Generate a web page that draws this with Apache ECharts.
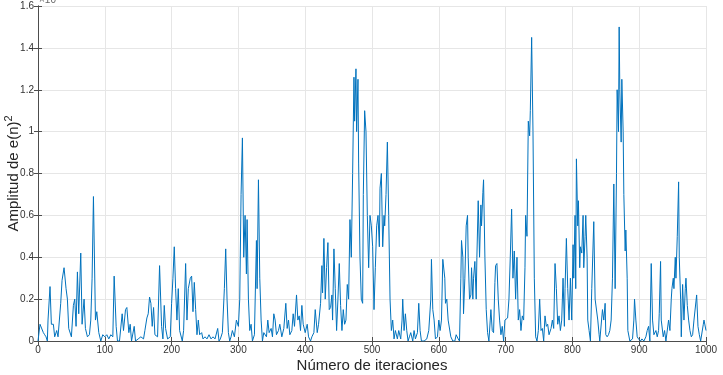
<!DOCTYPE html>
<html>
<head>
<meta charset="utf-8">
<script src="https://cdn.jsdelivr.net/npm/echarts@6/dist/echarts.min.js"></script>
<style>
html,body{margin:0;padding:0;background:#fff;}
#chart{width:723px;height:375px;}
</style>
</head>
<body>
<div id="chart"></div>
<script>
// Data: [iteration, amplitude (x10^-n)]
const seg0to200 = [[0,0],[3,0.08],[8,0.04],[10,0.03],[12,0.02],[14,0],[15,0.1],[18,0.26],[20,0.08],[23,0.08],[25,0.02],[28,0.05],[30,0.02],[34,0.18],[36,0.29],[39,0.35],[42,0.25],[44,0.2],[46,0.06],[48,0.06],[50,0.02],[53,0.17],[55,0.2],[57,0.07],[59,0.33],[61,0.13],[64,0.42],[66,0.08],[69,0.2],[71,0.06],[74,0.02],[77,0.03],[79,0.1],[81,0.3],[83,0.69],[86,0.1],[88,0.14],[91,0.04],[94,0],[97,0.03],[100,0.02],[103,0.03],[106,0.01],[109,0.03],[112,0.02],[114,0.31],[117,0.07],[119,0],[122,0],[126,0.13],[128,0.05],[131,0.15],[133,0.16],[136,0.04],[138,0.08],[140,0],[144,0.07],[146,0],[150,0.01],[154,0.02],[158,0.01],[160,0.05],[163,0.11],[165,0.13],[167,0.21],[169,0.18],[171,0.07],[173,0.16],[175,0.03],[179,0.02],[182,0.36],[185,0.07],[187,0.01],[189,0.17],[191,0.06],[194,0.01],[198,0.02]];
const seg200to400 = [[200,0.18],[202,0.3],[204,0.45],[206,0.25],[208,0.1],[210,0.25],[212,0.05],[214,0.05],[216,0],[218,0.05],[221,0.37],[223,0.1],[225,0.25],[228,0.3],[230,0.31],[232,0.14],[234,0.28],[236,0.15],[238,0.03],[240,0.1],[242,0.03],[245,0.04],[247,0.01],[250,0.02],[253,0.01],[256,0.03],[259,0.01],[262,0.02],[265,0.01],[269,0.06],[271,0],[273,0.01],[276,0.04],[279,0.25],[281,0.44],[283,0.2],[285,0.04],[287,0],[289,0.02],[291,0.05],[294,0.02],[297,0.1],[300,0.07],[302,0.2],[304,0.7],[306,0.97],[308,0.4],[310,0.6],[312,0.32],[313,0.58],[315,0.2],[317,0.05],[319,0.08],[321,0],[324,0.03],[327,0.48],[328,0.25],[330,0.77],[332,0.3],[334,0.1],[336,0],[338,0.04],[342,0.02],[344,0.1],[346,0.04],[349,0.06],[351,0.02],[353,0.13],[355,0.1],[357,0.03],[360,0.05],[362,0.08],[365,0.02],[368,0.06],[371,0.18],[373,0.06],[375,0.1],[377,0.03],[380,0.05],[382,0.13],[384,0.07],[387,0.22],[389,0.1],[391,0.12],[393,0.05],[395,0.17],[397,0.08]];
const seg400to600 = [[400,0.04],[403,0.08],[405,0.02],[408,0],[410,0.02],[413,0.04],[415,0.15],[418,0.04],[420,0.08],[423,0.18],[425,0.36],[426,0.23],[428,0.49],[430,0.2],[432,0.35],[434,0.47],[436,0.15],[438,0.16],[440,0.22],[441,0.1],[443,0.44],[445,0.25],[447,0.05],[449,0.2],[451,0.37],[453,0.17],[455,0.05],[457,0.15],[459,0.08],[461,0.1],[463,0.27],[465,0.2],[467,0.58],[469,0.4],[471,0.8],[473,1.26],[474,1.05],[476,1.3],[477,1.0],[479,1.25],[480,0.85],[482,0.4],[484,0.2],[486,0.18],[487,0.7],[489,1.1],[491,1.0],[493,0.6],[495,0.35],[497,0.6],[499,0.55],[501,0.45],[503,0.15],[505,0.35],[507,0.55],[509,0.6],[511,0.45],[512,0.73],[514,0.8],[516,0.45],[518,0.6],[519,0.55],[521,0.7],[523,0.95],[525,0.6],[527,0.2],[529,0.05],[531,0.1],[533,0.01],[535,0.05],[538,0.01],[540,0.05],[543,0.01],[545,0.1],[546,0.2],[548,0.05],[550,0.13],[552,0.05],[554,0],[556,0.02],[558,0.04],[561,0],[563,0.05],[565,0.01],[568,0.04],[570,0.18],[572,0.05],[574,0],[578,0],[582,0.01],[585,0.05],[588,0.2],[589,0.39],[591,0.15],[593,0.1],[595,0.01],[598,0.02]];
const seg600to800 = [[600,0.1],[602,0.05],[604,0.1],[606,0.39],[609,0.3],[610,0.18],[612,0.2],[614,0.1],[616,0.1],[618,0.02],[621,0],[624,0],[626,0.03],[629,0.01],[631,0],[633,0.3],[634,0.48],[636,0.4],[637,0.13],[639,0.3],[641,0.55],[643,0.6],[644,0.4],[646,0.2],[648,0.22],[649,0.35],[651,0.2],[652,0.3],[654,0.38],[656,0.2],[657,0.4],[659,0.67],[661,0.4],[663,0.65],[664,0.55],[666,0.71],[667,0.77],[669,0.4],[671,0.15],[673,0.04],[675,0],[677,0.1],[678,0.15],[680,0.05],[682,0.04],[684,0.28],[685,0.36],[687,0.37],[689,0.2],[691,0.1],[693,0.03],[695,0.07],[697,0],[699,0.1],[701,0.1],[703,0.11],[705,0.2],[707,0.4],[709,0.63],[711,0.3],[713,0.43],[715,0.2],[717,0.4],[719,0.1],[721,0.15],[723,0.05],[725,0.12],[727,0.1],[729,0.35],[730,0.6],[732,0.5],[734,1.05],[736,0.98],[737,1.1],[739,1.45],[741,1.0],[743,0.3],[745,0.02],[747,0],[749,0.05],[751,0.2],[753,0.05],[755,0.06],[757,0],[759,0.12],[761,0.07],[763,0.08],[765,0.03],[768,0.06],[770,0.1],[772,0.06],[774,0.37],[776,0.25],[778,0.08],[780,0.12],[782,0.05],[784,0.1],[786,0.3],[788,0.07],[789,0.25],[791,0.49],[793,0.25],[795,0.1],[797,0.3],[799,0.1]];
const seg800to1000 = [[801,0.46],[802,0.3],[804,0.6],[805,0.25],[806,0.87],[808,0.55],[809,0.67],[811,0.35],[812,0.45],[814,0.42],[816,0.6],[817,0.35],[819,0.5],[820,0.6],[822,0.4],[823,0.1],[825,0.05],[827,0],[829,0.25],[832,0.57],[834,0.2],[836,0.2],[838,0.1],[840,0.03],[841,0],[843,0],[845,0.15],[847,0.1],[849,0.18],[850,0.03],[852,0.02],[854,0.03],[856,0.05],[858,0.1],[860,0.3],[862,0.75],[864,0.25],[866,0.8],[867,1.2],[869,1.0],[870,1.5],[871,1.2],[873,0.95],[874,1.25],[876,1.0],[877,0.7],[879,0.43],[880,0.53],[882,0.3],[883,0.05],[886,0],[890,0.01],[892,0.1],[893,0.2],[895,0.1],[897,0.02],[899,0.01],[902,0],[904,0.01],[907,0],[910,0.02],[912,0.05],[914,0.07],[916,0],[918,0.37],[920,0.1],[922,0.03],[925,0.05],[927,0.02],[929,0.05],[930,0.13],[932,0.38],[933,0.1],[936,0.02],[938,0.05],[940,0],[942,0],[944,0.1],[946,0.05],[948,0.2],[949,0.25],[951,0.3],[952,0.25],[954,0.4],[955,0.3],[957,0.5],[959,0.76],[960,0.4],[962,0.2],[963,0.02],[965,0.27],[967,0.1],[969,0.25],[970,0.3],[972,0.17],[974,0.1],[976,0.05],[978,0.02],[980,0.03],[982,0.1],[984,0.1],[986,0.22],[988,0.07],[990,0.03],[992,0],[994,0],[996,0.08],[997,0.1],[1000,0.05]];

const xTicks = [0,100,200,300,400,500,600,700,800,900,1000];
const yTicks = [0,0.2,0.4,0.6,0.8,1,1.2,1.4,1.6];
const xTitle = 'Número de iteraciones';
const yTitle = 'Amplitud de e(n)';
const exponentLabel = '×10';

const series = [].concat(seg0to200, seg200to400, seg400to600, seg600to800, seg800to1000);

const axisColor = '#4d4d4d';
const labelColor = '#333333';
const font = 'Liberation Sans, Arial, Helvetica, sans-serif';

const chart = echarts.init(document.getElementById('chart'), null, {renderer:'canvas'});
chart.setOption({
  animation: false,
  backgroundColor: '#ffffff',
  grid: {left: 38, right: 17, top: 6, bottom: 34, containLabel: false, outerBoundsMode: 'none'},
  xAxis: [{
    type: 'value', min: xTicks[0], max: xTicks[xTicks.length-1], interval: 100,
    position: 'bottom',
    name: xTitle, nameLocation: 'middle', nameGap: 17, nameMoveOverlap: false,
    nameTextStyle: {fontSize: 15, color: '#262626', fontFamily: font},
    axisLine: {show: true, lineStyle: {color: axisColor, width: 1}},
    axisTick: {show: true, inside: true, length: 4, lineStyle: {color: axisColor}},
    axisLabel: {show: true, margin: 4, fontSize: 10, color: labelColor, fontFamily: font,
      formatter: v => String(v)},
    splitLine: {show: true, lineStyle: {color: '#e6e6e6', width: 1}}
  }, {
    type: 'value', min: xTicks[0], max: xTicks[xTicks.length-1], interval: 100,
    position: 'top',
    axisLine: {show: true, lineStyle: {color: axisColor, width: 1}},
    axisTick: {show: true, inside: true, length: 4, lineStyle: {color: axisColor}},
    axisLabel: {show: false},
    splitLine: {show: false}
  }],
  yAxis: [{
    type: 'value', min: yTicks[0], max: yTicks[yTicks.length-1], interval: 0.2,
    position: 'left',
    name: '{t|' + yTitle + '}{s|2}', nameLocation: 'middle', nameGap: 17, nameMoveOverlap: false,
    nameTextStyle: {
      color: '#262626', fontFamily: font,
      rich: {
        t: {fontSize: 15, color: '#262626', fontFamily: font, verticalAlign: 'bottom', lineHeight: 18},
        s: {fontSize: 11, color: '#262626', fontFamily: font, verticalAlign: 'top', padding: [0,0,8,0], lineHeight: 18}
      }
    },
    axisLine: {show: true, lineStyle: {color: axisColor, width: 1}},
    axisTick: {show: true, inside: true, length: 4, lineStyle: {color: axisColor}},
    axisLabel: {show: true, margin: 4, fontSize: 10, color: labelColor, fontFamily: font,
      formatter: v => String(+v.toFixed(1))},
    splitLine: {show: true, lineStyle: {color: '#e6e6e6', width: 1}}
  }, {
    type: 'value', min: yTicks[0], max: yTicks[yTicks.length-1], interval: 0.2,
    position: 'right',
    axisLine: {show: true, lineStyle: {color: axisColor, width: 1}},
    axisTick: {show: true, inside: true, length: 4, lineStyle: {color: axisColor}},
    axisLabel: {show: false},
    splitLine: {show: false}
  }],
  graphic: [
    {type: 'text', left: 39, top: -5, style: {text: exponentLabel, fontSize: 10, fill: '#666', fontFamily: font}},
    {type: 'text', left: 56, top: -8, style: {text: '-3', fontSize: 8, fill: '#666', fontFamily: font}}
  ],
  series: [{
    type: 'line',
    xAxisIndex: 0, yAxisIndex: 0,
    data: series,
    showSymbol: false,
    symbol: 'none',
    lineStyle: {color: '#0072BD', width: 1},
    z: 3
  }]
});
</script>
</body>
</html>
